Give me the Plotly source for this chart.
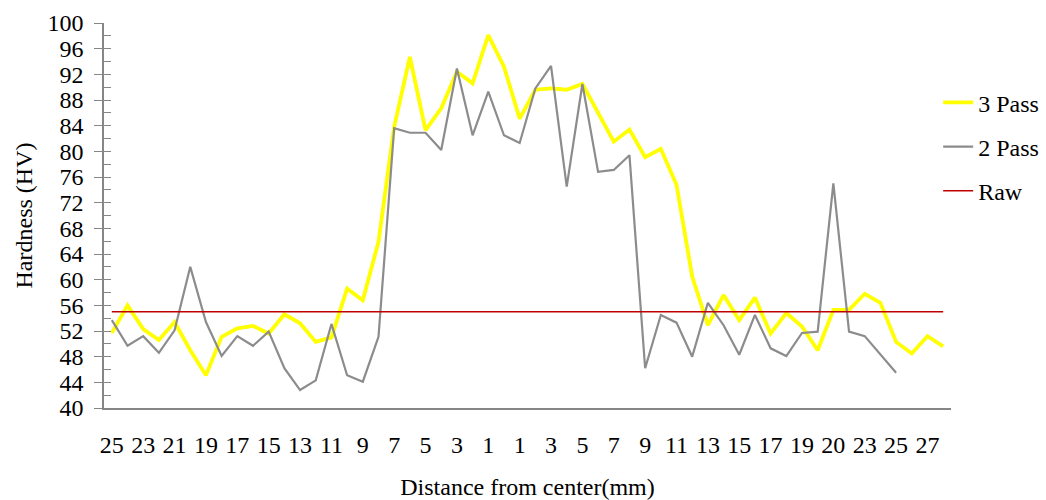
import plotly.graph_objects as go

# Category labels along the distance axis (left side 25..1, centre, right side 1..28)
distance_labels = [
    "25", "24", "23", "22", "21", "20", "19", "18", "17", "16", "15", "14", "13",
    "12", "11", "10", "9", "8", "7", "6", "5", "4", "3", "2", "1",
    "0",
    "1", "2", "3", "4", "5", "6", "7", "8", "9", "10", "11", "12", "13", "14",
    "15", "16", "17", "18", "19", "20", "20", "22", "23", "24", "25", "26", "27", "28",
]

pass3 = [
    51.7, 56.0, 52.3, 50.6, 53.4, 49.0, 45.1, 51.1, 52.4, 52.8,
    51.6, 54.6, 53.2, 50.3, 51.0, 58.6, 56.8, 65.9, 83.8, 94.7,
    83.3, 86.7, 92.4, 90.6, 98.1, 93.2, 85.1, 89.6, 89.8, 89.6,
    90.5, 85.9, 81.5, 83.4, 79.1, 80.4, 74.8, 60.5, 52.9, 57.6,
    53.7, 57.2, 51.6, 54.8, 52.7, 49.0, 55.3, 55.3, 57.8, 56.4,
    50.3, 48.5, 51.2, 49.6,
]

pass2 = [
    53.7, 49.7, 51.2, 48.6, 52.1, 62.0, 53.4, 48.1, 51.2, 49.7,
    51.9, 46.2, 42.8, 44.3, 53.1, 45.1, 44.1, 51.1, 83.6, 82.9,
    82.9, 80.2, 92.9, 82.5, 89.3, 82.5, 81.3, 89.8, 93.3, 74.5,
    90.5, 76.8, 77.1, 79.4, 46.2, 54.5, 53.3, 48.0, 56.4, 52.9,
    48.3, 54.5, 49.3, 48.1, 51.7, 51.9, 75.0, 51.9, 51.2, 48.3,
    45.5,
]

raw_value = 55.0
raw = [raw_value] * len(distance_labels)

y_ticks = list(range(40, 101, 4))

x_all = list(range(len(distance_labels)))
tick_idx = list(range(0, len(distance_labels), 2))
tick_text = [distance_labels[i] for i in tick_idx]

FONT = "Liberation Serif"
AXIS_COLOR = "#868686"

fig = go.Figure()
fig.add_trace(go.Scatter(
    x=x_all[:len(pass3)], y=pass3, mode="lines", name="3 Pass",
    line=dict(color="#FFFF00", width=3.8), legendgroup="g1",
))
fig.add_trace(go.Scatter(
    x=x_all[:len(pass2)], y=pass2, mode="lines", name="2 Pass",
    line=dict(color="#8C8C8C", width=2.2), legendgroup="g2",
))
fig.add_trace(go.Scatter(
    x=x_all, y=raw, mode="lines", name="Raw", yaxis="y2",
    line=dict(color="#C00000", width=1.5), legendgroup="g3",
))

fig.update_layout(
    width=1046, height=500,
    margin=dict(l=104, r=95, t=23, b=92, autoexpand=False),
    paper_bgcolor="white", plot_bgcolor="white",
    font=dict(family=FONT, size=24, color="black"),
    showlegend=True,
    legend=dict(
        x=1.11, xanchor="right", y=0.851, yanchor="top",
        font=dict(family=FONT, size=24, color="black"),
        tracegroupgap=10, bgcolor="rgba(0,0,0,0)",
    ),
    xaxis=dict(
        range=[-0.5, len(distance_labels) - 0.5], automargin=False,
        tickmode="array", tickvals=tick_idx, ticktext=tick_text,
        showline=True, linecolor=AXIS_COLOR, linewidth=1.5,
        showgrid=False, zeroline=False, ticks="",
        tickfont=dict(family=FONT, size=24, color="black"),
        ticklabelstandoff=14,
        title=dict(text="Distance from center(mm)", standoff=28,
                   font=dict(family=FONT, size=24, color="black")),
    ),
    yaxis=dict(
        range=[40, 100], tickmode="array", tickvals=y_ticks, automargin=False,
        showline=True, linecolor=AXIS_COLOR, linewidth=1.5,
        showgrid=False, zeroline=False,
        ticks="outside", ticklen=8, tickcolor=AXIS_COLOR, tickwidth=1.2,
        tickfont=dict(family=FONT, size=24, color="black"),
        ticklabelstandoff=6,
        title=dict(text="Hardness (HV)", standoff=8,
                   font=dict(family=FONT, size=24, color="black")),
    ),
    yaxis2=dict(
        range=[40, 100], overlaying="y", side="left", anchor="x",
        tickmode="linear", tick0=40, dtick=2, automargin=False,
        ticks="inside", ticklen=7, tickcolor=AXIS_COLOR, tickwidth=1.2,
        showticklabels=False, showline=False, showgrid=False, zeroline=False,
    ),
)

fig.write_html("out.html", config={"displayModeBar": False},
               post_script="document.body.style.margin='0';")
